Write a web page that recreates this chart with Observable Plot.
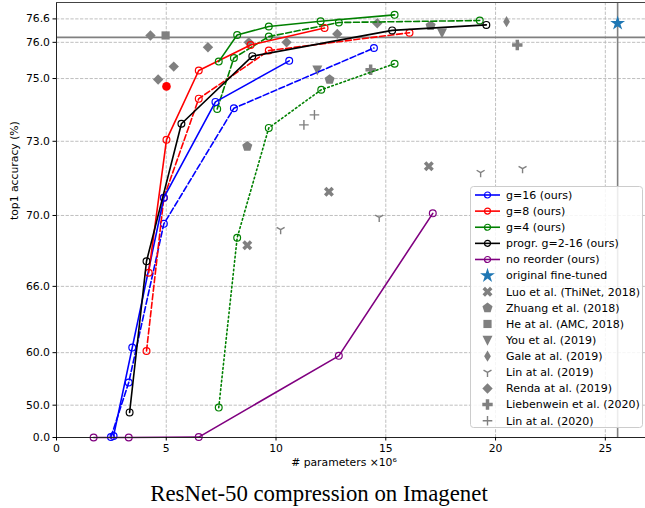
<!DOCTYPE html>
<html><head><meta charset="utf-8">
<script src="https://cdn.jsdelivr.net/npm/d3@7"></script>
<script src="https://cdn.jsdelivr.net/npm/@observablehq/plot@0.6"></script>
<style>
body{margin:0;background:#fff;}
#wrap{position:relative;width:645px;height:508px;overflow:hidden;font-family:"DejaVu Sans",sans-serif;}
#chart{position:absolute;left:0;top:0;}
#legend{position:absolute;left:470px;top:186px;}
#title{position:absolute;left:0;width:638px;top:483px;text-align:center;font-family:"Liberation Serif",serif;font-size:22.8px;line-height:1;color:#000;white-space:nowrap;}
</style></head>
<body><div id="wrap"><div id="chart"></div><div id="legend"></div><div id="title">ResNet-50 compression on Imagenet</div></div>
<script>
// ---------- data (x: # parameters in millions, y: top1 accuracy %) ----------
const g16X = [2.60, 3.45, 4.89, 7.24, 10.60];
const g16Y = [20, 60.6, 70.8, 74.3, 75.5];
const g16dX = [2.48, 3.29, 4.89, 8.08, 14.46];
const g16dY = [10, 55.5, 69.6, 74.1, 75.85];
const g8X = [4.20, 5.01, 6.48, 8.84, 12.21];
const g8Y = [66.9, 73.05, 75.23, 75.93, 76.37];
const g8dX = [4.10, 4.89, 6.48, 9.67, 16.08];
const g8dY = [60.2, 70.8, 74.4, 75.78, 76.25];
const g8ptX = [5.01];
const g8ptY = [74.77];
const g4X = [7.39, 8.23, 9.67, 12.03, 15.40];
const g4Y = [75.48, 76.19, 76.41, 76.54, 76.70];
const g4dX = [7.32, 8.08, 9.67, 12.86, 19.28];
const g4dY = [74.08, 75.58, 76.15, 76.51, 76.56];
const g4oX = [7.39, 8.23, 9.67, 12.06, 15.40];
const g4oY = [49.2, 68.9, 73.46, 74.67, 75.42];
const progX = [3.33, 4.10, 5.69, 8.92, 15.29, 19.58];
const progY = [47.4, 67.6, 73.6, 75.63, 76.31, 76.45];
const noreX = [1.69, 3.29, 6.48, 12.86, 17.14];
const noreY = [0, 0, 10, 59.6, 70.1];
const origX = [25.56];
const origY = [76.49];
const luoX = [8.69, 12.41, 16.96];
const luoY = [68.5, 71.06, 72.08];
const zhuangX = [8.69, 12.44, 17.04];
const zhuangY = [72.82, 74.97, 76.43];
const heX = [4.97];
const heY = [76.18];
const youX = [11.88, 17.56];
const youY = [75.25, 76.25];
const galeX = [20.50];
const galeY = [76.53];
const lin19X = [10.21, 14.70, 19.32, 21.23];
const lin19Y = [69.31, 69.91, 71.84, 71.99];
const rendaX = [4.28, 4.63, 5.34, 6.90, 8.76, 10.48, 12.79, 14.61];
const rendaY = [76.18, 74.97, 75.34, 75.87, 76.0, 76.0, 76.22, 76.49];
const liebX = [14.31, 20.99];
const liebY = [75.25, 75.93];
const lin20X = [11.27, 11.75];
const lin20Y = [73.56, 73.89];
const baseAcc = 76.13;
const baseParams = 25.56;
const xTicks = [0, 5, 10, 15, 20, 25];
const yTicks = [0.0, 50.0, 60.0, 66.0, 70.0, 73.0, 75.0, 76.0, 76.6];
const xMax = 26.83, yMin = 0, yMax = 77.0;

// ---------- exponential accuracy axis ----------
const K = 0.096;
const T = v => Math.exp(K * v);
const Tinv = t => Math.log(t) / K;
const pts = (xs, ys) => xs.map((x, i) => ({x, y: T(ys[i])}));

// ---------- marker shapes ----------
function poly(p) {
  return {draw(ctx, size) {
    const R = Math.sqrt(size / Math.PI);
    p.forEach(([a, b], i) => i ? ctx.lineTo(a * R, b * R) : ctx.moveTo(a * R, b * R));
    ctx.closePath();
  }};
}
const plusPts = [[-1,-3],[1,-3],[1,-1],[3,-1],[3,1],[1,1],[1,3],[-1,3],[-1,1],[-3,1],[-3,-1],[-1,-1]].map(([a,b]) => [a/3, b/3]);
const symP = poly(plusPts);
const symX = poly(plusPts.map(([a,b]) => [(a-b)/Math.SQRT2, (a+b)/Math.SQRT2]));
const symPent = poly(d3.range(5).map(k => {const t = -Math.PI/2 + k*2*Math.PI/5; return [Math.cos(t), Math.sin(t)];}));
const symD = poly([[0,-1],[1,0],[0,1],[-1,0]]);
const symThinD = poly([[0,-1],[0.6,0],[0,1],[-0.6,0]]);
const symTri = poly([[-1,-0.85],[1,-0.85],[0,1.15]]);
const symSq = poly([[-1,-1],[1,-1],[1,1],[-1,1]]);
const symStar = poly(d3.range(10).map(k => {const t = -Math.PI/2 + k*Math.PI/5; const rr = k % 2 ? 0.382 : 1; return [rr*Math.cos(t), rr*Math.sin(t)];}));
const symY = {draw(ctx, size) {const R = Math.sqrt(size/Math.PI);
  ctx.moveTo(0,0); ctx.lineTo(0,R); ctx.moveTo(0,0); ctx.lineTo(-0.866*R,-0.5*R); ctx.moveTo(0,0); ctx.lineTo(0.866*R,-0.5*R);}};
const symPlus = {draw(ctx, size) {const R = Math.sqrt(size/Math.PI);
  ctx.moveTo(-R,0); ctx.lineTo(R,0); ctx.moveTo(0,-R); ctx.lineTo(0,R);}};

const GRAY = "#808080";
const others = [
  {label: "Luo et al. (ThiNet, 2018)", xs: luoX, ys: luoY, sym: symX, r: 5.3, filled: true},
  {label: "Zhuang et al. (2018)", xs: zhuangX, ys: zhuangY, sym: symPent, r: 5.3, filled: true},
  {label: "He at al. (AMC, 2018)", xs: heX, ys: heY, sym: symSq, r: 4.1, filled: true},
  {label: "You et al. (2019)", xs: youX, ys: youY, sym: symTri, r: 5, filled: true},
  {label: "Gale at al. (2019)", xs: galeX, ys: galeY, sym: symThinD, r: 5.6, filled: true},
  {label: "Lin at al. (2019)", xs: lin19X, ys: lin19Y, sym: symY, r: 4.6, filled: false},
  {label: "Renda at al. (2019)", xs: rendaX, ys: rendaY, sym: symD, r: 5.2, filled: true},
  {label: "Liebenwein et al. (2020)", xs: liebX, ys: liebY, sym: symP, r: 5.2, filled: true},
  {label: "Lin at al. (2020)", xs: lin20X, ys: lin20Y, sym: symPlus, r: 4.8, filled: false}
];
const ours = [
  {label: "g=16 (ours)", xs: g16X, ys: g16Y, color: "#0000ff"},
  {label: "g=8 (ours)", xs: g8X, ys: g8Y, color: "#ff0000"},
  {label: "g=4 (ours)", xs: g4X, ys: g4Y, color: "#008000"},
  {label: "progr. g=2-16 (ours)", xs: progX, ys: progY, color: "#000000"},
  {label: "no reorder (ours)", xs: noreX, ys: noreY, color: "#800080"}
];
const extra = [
  {xs: g16dX, ys: g16dY, color: "#0000ff", dash: "6,2.6"},
  {xs: g8dX, ys: g8dY, color: "#ff0000", dash: "6,2.6"},
  {xs: g4dX, ys: g4dY, color: "#008000", dash: "6,2.6"},
  {xs: g4oX, ys: g4oY, color: "#008000", dash: "1.6,2.7"}
];

function series(s) {
  const d = pts(s.xs, s.ys);
  return [
    Plot.line(d, {x: "x", y: "y", stroke: s.color, strokeWidth: 1.6, strokeDasharray: s.dash ?? null}),
    Plot.dot(d, {x: "x", y: "y", r: 3.4, stroke: s.color, fill: "none", strokeWidth: 1.2})
  ];
}

const gridStyle = {stroke: "#b8b8b8", strokeOpacity: 1, strokeWidth: 0.9, strokeDasharray: "3.3,1.5"};
const chart = Plot.plot({
  width: 645, height: 475,
  marginLeft: 56, marginRight: 0, marginTop: 2, marginBottom: 38,
  style: {fontFamily: "DejaVu Sans, sans-serif", fontSize: "10.8px", color: "#000", background: "transparent"},
  x: {domain: [0, xMax]},
  y: {domain: [T(yMin), T(yMax)]},
  marks: [
    Plot.gridX(xTicks.filter(d => d > 0), gridStyle),
    Plot.gridY(yTicks.filter(d => d > 0).map(T), gridStyle),
    Plot.ruleY([T(baseAcc)], {stroke: GRAY, strokeWidth: 1.6}),
    Plot.ruleX([baseParams], {stroke: GRAY, strokeWidth: 1.6}),
    ...others.map(o => Plot.dot(pts(o.xs, o.ys), {x: "x", y: "y", symbol: o.sym, r: o.r,
      fill: o.filled ? GRAY : "none", stroke: o.filled ? "none" : GRAY, strokeWidth: 1.4})),
    ...extra.flatMap(series),
    ...ours.flatMap(series),
    Plot.dot(pts(g8ptX, g8ptY), {x: "x", y: "y", r: 4.3, fill: "#ff0000"}),
    Plot.dot(pts(origX, origY), {x: "x", y: "y", symbol: symStar, r: 7.8, fill: "#1f77b4"}),
    Plot.ruleX([0], {stroke: "#222", strokeWidth: 1}),
    Plot.ruleY([T(yMin)], {stroke: "#222", strokeWidth: 1}),
    Plot.ruleY([T(yMax)], {stroke: "#444", strokeWidth: 1}),
    Plot.axisX(xTicks, {tickSize: 3.5, tickPadding: 3, label: null}),
    Plot.axisY(yTicks.map(T), {tickSize: 3.5, tickPadding: 3, label: null, tickFormat: t => Tinv(t).toFixed(1)}),
    Plot.text(["# parameters ×10⁶"], {frameAnchor: "bottom", dx: -7, dy: 28, fontSize: 10.8}),
    Plot.text(["top1 accuracy (%)"], {frameAnchor: "left", dx: -42, rotate: -90, fontSize: 10.8})
  ]
});
document.getElementById("chart").appendChild(chart);

// ---------- legend ----------
const L = d3.select("#legend").append("svg").attr("width", 174).attr("height", 243)
  .style("font-family", "DejaVu Sans, sans-serif").style("font-size", "11px");
L.append("rect").attr("x", 0.5).attr("y", 0.5).attr("width", 172).attr("height", 241).attr("rx", 3)
  .attr("fill", "#fff").attr("fill-opacity", 0.85).attr("stroke", "#cccccc");
const entries = [
  ...ours.map(o => ({label: o.label, line: o.color})),
  {label: "original fine-tuned", sym: symStar, r: 7.8, fill: "#1f77b4"},
  ...others.map(o => ({label: o.label, sym: o.sym, r: o.r, fill: o.filled ? GRAY : "none", stroke: o.filled ? "none" : GRAY}))
];
entries.forEach((e, i) => {
  const g = L.append("g").attr("transform", `translate(0,${9 + i * 16.12})`);
  if (e.line) {
    g.append("line").attr("x1", 5).attr("x2", 30).attr("stroke", e.line).attr("stroke-width", 1.6);
    g.append("circle").attr("cx", 17.5).attr("r", 3.0).attr("fill", "none").attr("stroke", e.line).attr("stroke-width", 1.2);
  } else {
    g.append("path").attr("transform", "translate(17.5,0)").attr("d", d3.symbol(e.sym, Math.PI * e.r * e.r)())
      .attr("fill", e.fill).attr("stroke", e.stroke ?? "none").attr("stroke-width", 1.4);
  }
  g.append("text").attr("x", 36).attr("dy", "0.35em").attr("fill", "#000").text(e.label);
});
</script>
</body></html>
